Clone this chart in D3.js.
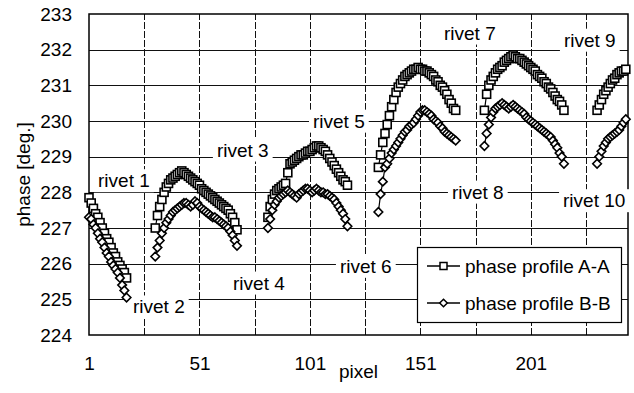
<!DOCTYPE html>
<html>
<head>
<meta charset="utf-8">
<script src="https://cdn.jsdelivr.net/npm/d3@7"></script>
<style>
  body { margin: 0; background: #fff; }
  svg { display: block; font-family: "Liberation Sans", Arial, sans-serif; }
</style>
</head>
<body>
<svg id="chart" width="634" height="393"></svg>
<script>
// first pixel of each scanned segment (one segment per rivet pair)
const segmentStart = [1, 31, 82, 132, 180, 231];

// phase profile A-A, one array per segment
const profileA1 = [227.85, 227.7, 227.55, 227.4, 227.3, 227.15, 227.0, 226.85, 226.7, 226.6, 226.45, 226.3, 226.2, 226.05, 225.95, 225.85, 225.75, 225.6];
const profileA2 = [227.0, 227.35, 227.6, 227.8, 228.0, 228.15, 228.25, 228.35, 228.4, 228.45, 228.5, 228.55, 228.6, 228.55, 228.5, 228.45, 228.4, 228.35, 228.3, 228.25, 228.2, 228.1, 228.05, 228.0, 227.95, 227.9, 227.85, 227.8, 227.75, 227.7, 227.65, 227.6, 227.55, 227.5, 227.4, 227.3, 227.15, 226.95];
const profileA3 = [227.3, 227.6, 227.8, 227.95, 228.05, 228.1, 228.15, 228.2, 228.25, 228.55, 228.8, 228.85, 228.9, 228.95, 229.0, 229.05, 229.05, 229.1, 229.15, 229.15, 229.2, 229.25, 229.3, 229.3, 229.25, 229.2, 229.15, 229.05, 228.95, 228.85, 228.75, 228.65, 228.55, 228.45, 228.35, 228.3, 228.2];
const profileA4 = [228.7, 229.05, 229.4, 229.65, 229.9, 230.15, 230.4, 230.6, 230.8, 230.95, 231.05, 231.15, 231.25, 231.3, 231.35, 231.4, 231.45, 231.45, 231.5, 231.45, 231.45, 231.4, 231.4, 231.35, 231.3, 231.25, 231.15, 231.1, 231.0, 230.95, 230.85, 230.75, 230.6, 230.5, 230.35, 230.3];
const profileA5 = [230.3, 230.75, 231.0, 231.15, 231.25, 231.35, 231.45, 231.5, 231.55, 231.65, 231.7, 231.75, 231.8, 231.85, 231.8, 231.75, 231.75, 231.7, 231.65, 231.6, 231.55, 231.5, 231.45, 231.4, 231.3, 231.25, 231.2, 231.1, 231.05, 230.95, 230.9, 230.8, 230.7, 230.6, 230.55, 230.45, 230.3];
const profileA6 = [230.3, 230.45, 230.6, 230.75, 230.85, 230.95, 231.05, 231.15, 231.2, 231.3, 231.35, 231.4, 231.4, 231.45];

// phase profile B-B, one array per segment
const profileB1 = [227.3, 227.25, 227.1, 227.0, 226.85, 226.7, 226.6, 226.45, 226.3, 226.2, 226.05, 225.95, 225.85, 225.75, 225.6, 225.4, 225.25, 225.05];
const profileB2 = [226.2, 226.45, 226.65, 226.85, 227.0, 227.15, 227.25, 227.35, 227.45, 227.5, 227.55, 227.6, 227.65, 227.7, 227.7, 227.65, 227.6, 227.65, 227.75, 227.7, 227.6, 227.55, 227.5, 227.45, 227.4, 227.35, 227.3, 227.3, 227.25, 227.2, 227.15, 227.1, 227.05, 227.0, 226.9, 226.8, 226.65, 226.5];
const profileB3 = [227.0, 227.25, 227.5, 227.65, 227.75, 227.85, 227.9, 227.95, 228.0, 228.05, 228.0, 227.95, 227.9, 227.85, 227.95, 228.0, 228.05, 228.1, 228.1, 228.05, 228.0, 228.05, 228.1, 228.05, 228.0, 228.0, 227.95, 227.95, 227.9, 227.85, 227.8, 227.7, 227.6, 227.5, 227.4, 227.25, 227.05];
const profileB4 = [227.45, 227.95, 228.3, 228.7, 228.8, 228.95, 229.1, 229.2, 229.3, 229.4, 229.5, 229.6, 229.7, 229.75, 229.85, 229.9, 229.95, 230.05, 230.15, 230.25, 230.3, 230.3, 230.25, 230.2, 230.15, 230.05, 230.0, 229.95, 229.85, 229.8, 229.7, 229.65, 229.6, 229.55, 229.5, 229.45];
const profileB5 = [229.3, 229.65, 229.9, 230.1, 230.25, 230.35, 230.4, 230.45, 230.5, 230.45, 230.4, 230.35, 230.4, 230.45, 230.4, 230.35, 230.3, 230.25, 230.2, 230.1, 230.05, 230.0, 229.95, 229.9, 229.85, 229.8, 229.75, 229.7, 229.65, 229.6, 229.55, 229.45, 229.35, 229.25, 229.1, 229.0, 228.8];
const profileB6 = [228.8, 229.0, 229.15, 229.3, 229.4, 229.5, 229.55, 229.6, 229.65, 229.7, 229.75, 229.85, 229.95, 230.05];

const yTicks = [224, 225, 226, 227, 228, 229, 230, 231, 232, 233];
const xTickLabels = [1, 51, 101, 151, 201];
const xGrid = [26, 51, 76, 101, 126, 151, 176, 201, 226];

// rivet annotations, anchored in data units (pixel, phase)
const rivetText = ['rivet 1', 'rivet 2', 'rivet 3', 'rivet 4', 'rivet 5', 'rivet 6', 'rivet 7', 'rivet 8', 'rivet 9', 'rivet 10'];
const rivetPixel = [5.1, 20.9, 58.9, 66.2, 102.4, 114.6, 161.7, 165.3, 216.0, 215.6];
const rivetPhase = [228.33, 224.79, 229.19, 225.46, 230.0, 225.93, 232.47, 228.01, 232.27, 227.77];

const seriesNames = ['phase profile A-A', 'phase profile B-B'];

const svg = d3.select('#chart');
const margin = { left: 89, right: 6, top: 14, bottom: 58 };
const W = 634, H = 393;
const x = d3.scaleLinear().domain([1, 245]).range([margin.left, W - margin.right]);
const y = d3.scaleLinear().domain([224, 233]).range([H - margin.bottom, margin.top]);

const segA = [profileA1, profileA2, profileA3, profileA4, profileA5, profileA6]
  .map((a, s) => a.map((v, i) => ({ px: segmentStart[s] + i, v })));
const segB = [profileB1, profileB2, profileB3, profileB4, profileB5, profileB6]
  .map((a, s) => a.map((v, i) => ({ px: segmentStart[s] + i, v })));

// gridlines
const grid = svg.append('g').attr('stroke', '#111').attr('stroke-width', 1);
grid.selectAll('.hg').data(yTicks.slice(1, -1)).join('line')
  .attr('x1', x(1)).attr('x2', x(245))
  .attr('y1', d => Math.round(y(d)) + 0.5).attr('y2', d => Math.round(y(d)) + 0.5);
grid.selectAll('.vg').data(xGrid).join('line')
  .attr('y1', y(224)).attr('y2', y(233))
  .attr('x1', d => Math.round(x(d)) + 0.5).attr('x2', d => Math.round(x(d)) + 0.5)
  .attr('stroke-dasharray', '7,2');

// plot frame
svg.append('rect')
  .attr('x', x(1)).attr('y', y(233))
  .attr('width', x(245) - x(1)).attr('height', y(224) - y(233))
  .attr('fill', 'none').attr('stroke', '#000').attr('stroke-width', 1.5);

// axes (labels only)
const yAxis = svg.append('g').attr('transform', `translate(${x(1)},0)`)
  .call(d3.axisLeft(y).tickValues(yTicks).tickSize(0).tickPadding(17).tickFormat(d3.format('d')));
const xAxis = svg.append('g').attr('transform', `translate(0,${y(224)})`)
  .call(d3.axisBottom(x).tickValues(xTickLabels).tickSize(0).tickPadding(22).tickFormat(d3.format('d')));
[yAxis, xAxis].forEach(g => {
  g.select('.domain').remove();
  g.selectAll('text').attr('font-size', 19).attr('fill', '#000')
    .attr('font-family', '"Liberation Sans", Arial, sans-serif');
});

svg.append('text').attr('x', (x(1) + x(245)) / 2).attr('y', 378)
  .attr('text-anchor', 'middle').attr('font-size', 19).text('pixel');
svg.append('text').attr('transform', `translate(30,${(y(224) + y(233)) / 2}) rotate(-90)`)
  .attr('text-anchor', 'middle').attr('font-size', 19).text('phase [deg.]');

// rivet labels with white boxes over the grid
const labels = svg.append('g');
rivetText.forEach((t, i) => {
  const g = labels.append('g');
  const txt = g.append('text').attr('x', x(rivetPixel[i])).attr('y', y(rivetPhase[i]))
    .attr('dy', '0.35em').attr('font-size', 19).text(t);
  const b = txt.node().getBBox();
  g.insert('rect', 'text').attr('x', b.x - 4).attr('y', b.y - 1)
    .attr('width', b.width + 8).attr('height', b.height + 2).attr('fill', '#fff');
});

// series
const line = d3.line().x(d => x(d.px)).y(d => y(d.v));
const diamond = s => `M0,${-s}L${s},0L0,${s}L${-s},0Z`;

function drawSeries(segs, shape) {
  const g = svg.append('g');
  g.selectAll('path.ln').data(segs).join('path')
    .attr('d', line).attr('fill', 'none').attr('stroke', '#000').attr('stroke-width', 1.2);
  const pts = segs.flat();
  if (shape === 'square') {
    g.selectAll('rect').data(pts).join('rect')
      .attr('x', d => x(d.px) - 4).attr('y', d => y(d.v) - 4)
      .attr('width', 8).attr('height', 8)
      .attr('fill', '#fff').attr('stroke', '#000').attr('stroke-width', 1.6);
  } else {
    g.selectAll('path.mk').data(pts).join('path')
      .attr('transform', d => `translate(${x(d.px)},${y(d.v)})`)
      .attr('d', diamond(4.3))
      .attr('fill', '#fff').attr('stroke', '#000').attr('stroke-width', 1.6);
  }
}
drawSeries(segA, 'square');
drawSeries(segB, 'diamond');

// legend
const lg = svg.append('g');
lg.append('rect').attr('x', 417.5).attr('y', 247.5).attr('width', 204).attr('height', 75)
  .attr('fill', '#fff').attr('stroke', '#000').attr('stroke-width', 1.2);
const rowY = [266, 303];
seriesNames.forEach((name, i) => {
  const cy = rowY[i];
  lg.append('line').attr('x1', 427).attr('x2', 460).attr('y1', cy).attr('y2', cy)
    .attr('stroke', '#000').attr('stroke-width', 1.4);
  if (i === 0) {
    lg.append('rect').attr('x', 440).attr('y', cy - 3.5).attr('width', 7).attr('height', 7)
      .attr('fill', '#fff').attr('stroke', '#000').attr('stroke-width', 1.5);
  } else {
    lg.append('path').attr('transform', `translate(443.5,${cy})`).attr('d', diamond(3.8))
      .attr('fill', '#fff').attr('stroke', '#000').attr('stroke-width', 1.5);
  }
  lg.append('text').attr('x', 465).attr('y', cy).attr('dy', '0.35em')
    .attr('font-size', 19).text(name);
});
</script>
</body>
</html>
